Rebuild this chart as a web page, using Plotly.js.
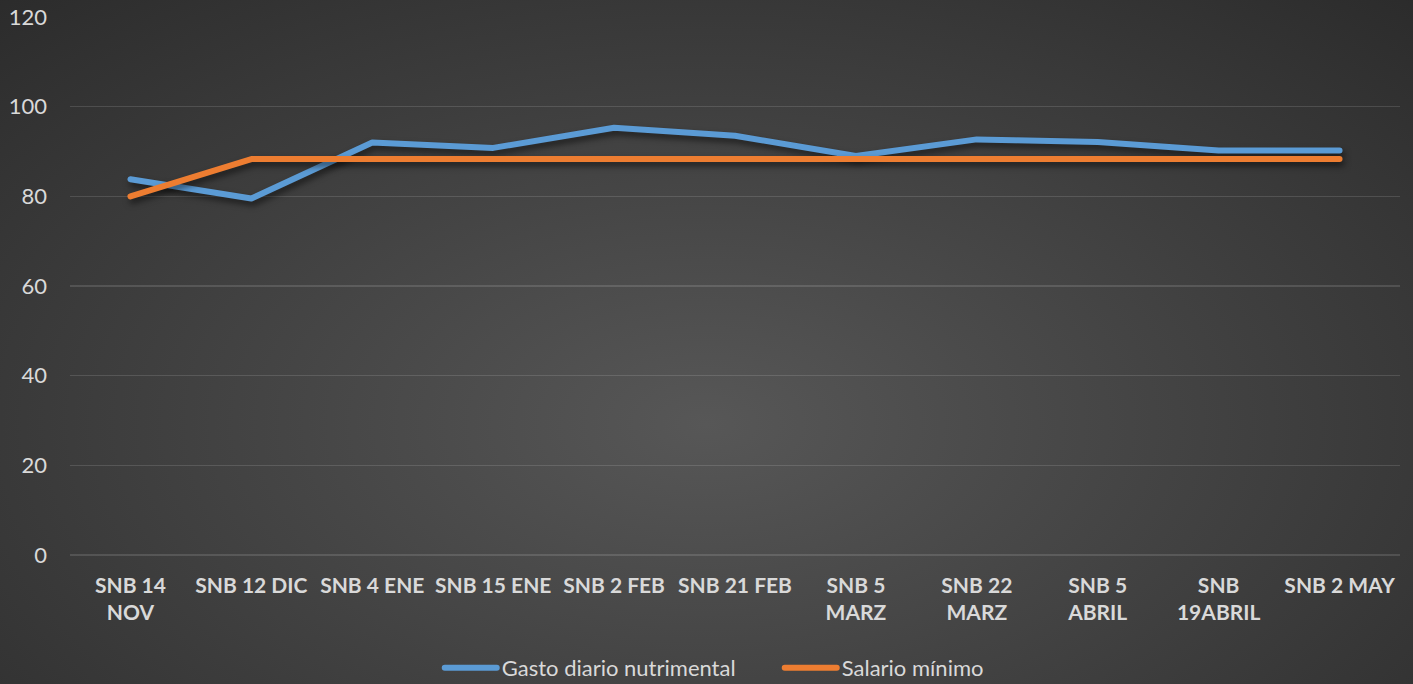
<!DOCTYPE html>
<html>
<head>
<meta charset="utf-8">
<script src="https://cdn.plot.ly/plotly-3.0.1.min.js"></script>
<style>
  html, body { margin: 0; padding: 0; width: 1413px; height: 684px; overflow: hidden; }
  body { background: radial-gradient(ellipse 80% 95% at 50% 62%, #575757 0%, #3f3f3f 50%, #272727 100%); }
  #chart { width: 1413px; height: 684px; }
  .scatterlayer .trace path.js-line { stroke-linecap: round; stroke-linejoin: round; }
  .scatterlayer .trace { filter: drop-shadow(2px 4px 3px rgba(0,0,0,0.55)); }
  .legend .legendlines path { stroke-linecap: round; }
</style>
</head>
<body>
<div id="chart"></div>
<script>
const categories = ["SNB 14<br>NOV", "SNB 12 DIC", "SNB 4 ENE", "SNB 15 ENE", "SNB 2 FEB", "SNB 21 FEB", "SNB 5<br>MARZ", "SNB 22<br>MARZ", "SNB 5<br>ABRIL", "SNB<br>19ABRIL", "SNB 2 MAY"];
const gastoDiario = [83.8, 79.5, 92.0, 90.8, 95.3, 93.5, 89.0, 92.7, 92.1, 90.2, 90.2];
const salarioMinimo = [80.0, 88.3, 88.3, 88.3, 88.3, 88.3, 88.3, 88.3, 88.3, 88.3, 88.3];
const yTicks = [0, 20, 40, 60, 80, 100, 120];

const fontFam = 'Lato, "Open Sans", sans-serif';
const txtColor = '#d9d9d9';

const traces = [
  { x: categories, y: gastoDiario, type: 'scatter', mode: 'lines', name: 'Gasto diario nutrimental',
    line: { color: '#5B9BD5', width: 6 } },
  { x: categories, y: salarioMinimo, type: 'scatter', mode: 'lines', name: 'Salario mínimo',
    line: { color: '#ED7D31', width: 6 } }
];

const layout = {
  width: 1413, height: 684,
  paper_bgcolor: 'rgba(0,0,0,0)', plot_bgcolor: 'rgba(0,0,0,0)',
  margin: { l: 70, r: 13, t: 17, b: 129, autoexpand: false },
  font: { family: fontFam, color: txtColor, size: 22 },
  showlegend: true,
  legend: { orientation: 'h', x: 0.278, xanchor: 'left', y: -0.21, yanchor: 'middle',
            entrywidth: 273, entrywidthmode: 'pixels',
            font: { family: fontFam, size: 22, color: txtColor }, itemwidth: 52, traceorder: 'normal' },
  xaxis: { type: 'category', range: [-0.5, 10.5], tickmode: 'array', tickvals: categories, ticktext: categories,
           showgrid: false, zeroline: false, showline: false, ticks: '', automargin: false,
           tickfont: { family: fontFam, size: 21, color: txtColor, weight: 'bold' },
           ticklabelstandoff: 16, tickangle: 0 },
  yaxis: { range: [0, 120], tickmode: 'array', tickvals: yTicks, ticktext: yTicks.map(String),
           showgrid: true, gridcolor: 'rgba(255,255,255,0.13)', gridwidth: 1.3, automargin: false,
           zeroline: true, zerolinecolor: 'rgba(255,255,255,0.13)', zerolinewidth: 1.3,
           showline: false, ticks: '', ticklabelstandoff: 22,
           tickfont: { family: fontFam, size: 22, color: txtColor } }
};

Plotly.newPlot('chart', traces, layout, { displayModeBar: false, staticPlot: true });
</script>
</body>
</html>
